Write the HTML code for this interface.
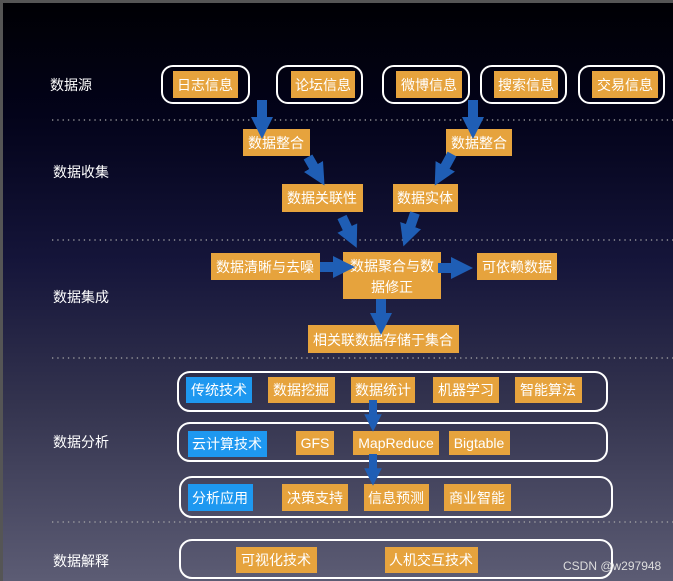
<!DOCTYPE html>
<html><head><meta charset="utf-8"><style>
html,body{margin:0;padding:0;width:673px;height:581px;overflow:hidden;background:#000}
svg{display:block}
text{font-family:"Liberation Sans","Noto Sans CJK SC",sans-serif;fill:#fff}
</style></head><body>
<svg width="673" height="581" viewBox="0 0 673 581" xmlns="http://www.w3.org/2000/svg">
<defs>
<linearGradient id="bg" x1="0" y1="0" x2="0" y2="1">
<stop offset="0" stop-color="#000003"/>
<stop offset="0.2" stop-color="#03031a"/>
<stop offset="0.45" stop-color="#15153a"/>
<stop offset="0.7" stop-color="#34344f"/>
<stop offset="1" stop-color="#5c5c74"/>
</linearGradient>
<marker id="ah" viewBox="0 0 10 10" refX="5" refY="5" markerWidth="2.2" markerHeight="2.2" orient="auto" markerUnits="strokeWidth">
<path d="M0,0 L10,5 L0,10 z" fill="#1f5eb5"/></marker>
</defs>
<rect width="673" height="581" fill="url(#bg)"/>
<rect x="0" y="0" width="673" height="3" fill="#555"/>
<rect x="0" y="0" width="3" height="581" fill="#555"/>
<g stroke="#aaa" stroke-width="1.3" stroke-dasharray="1.3 4">
<line x1="52" y1="120" x2="673" y2="120"/>
<line x1="52" y1="240" x2="673" y2="240"/>
<line x1="52" y1="358" x2="673" y2="358"/>
<line x1="52" y1="522" x2="673" y2="522"/>
</g>
<g font-size="14">
<text x="50" y="90">数据源</text>
<text x="53" y="177">数据收集</text>
<text x="53" y="302">数据集成</text>
<text x="53" y="447">数据分析</text>
<text x="53" y="566">数据解释</text>
</g>
<g fill="none" stroke="#fff" stroke-width="2">
<rect x="162" y="66" width="87" height="37" rx="11"/>
<rect x="277" y="66" width="85" height="37" rx="11"/>
<rect x="383" y="66" width="86" height="37" rx="11"/>
<rect x="481" y="66" width="85" height="37" rx="11"/>
<rect x="579" y="66" width="85" height="37" rx="11"/>
<rect x="178" y="372" width="429" height="39" rx="12"/>
<rect x="178" y="423" width="429" height="38" rx="12"/>
<rect x="180" y="477" width="432" height="40" rx="12"/>
<rect x="180" y="540" width="432" height="38" rx="12"/>
</g>
<g fill="#e6a33d">
<rect x="173" y="71" width="65" height="27"/>
<rect x="291" y="71" width="64" height="27"/>
<rect x="396" y="71" width="66" height="27"/>
<rect x="494" y="71" width="64" height="27"/>
<rect x="592" y="71" width="66" height="27"/>
<rect x="243" y="129" width="67" height="27"/>
<rect x="446" y="129" width="66" height="27"/>
<rect x="282" y="184" width="81" height="28"/>
<rect x="393" y="184" width="65" height="28"/>
<rect x="211" y="253" width="109" height="27"/>
<rect x="343" y="252" width="98" height="47"/>
<rect x="477" y="253" width="80" height="27"/>
<rect x="308" y="325" width="151" height="28"/>
<rect x="268" y="377" width="67" height="26"/>
<rect x="351" y="377" width="64" height="26"/>
<rect x="433" y="377" width="66" height="26"/>
<rect x="515" y="377" width="67" height="26"/>
<rect x="296" y="431" width="38" height="24"/>
<rect x="353" y="431" width="86" height="24"/>
<rect x="449" y="431" width="61" height="24"/>
<rect x="282" y="484" width="66" height="27"/>
<rect x="364" y="484" width="65" height="27"/>
<rect x="444" y="484" width="67" height="27"/>
<rect x="236" y="547" width="81" height="26"/>
<rect x="385" y="547" width="93" height="26"/>
</g>
<g fill="#1e98f0">
<rect x="186" y="377" width="66" height="26"/>
<rect x="188" y="431" width="79" height="26"/>
<rect x="188" y="484" width="65" height="27"/>
</g>
<g font-size="14" text-anchor="middle">
<text x="205" y="90">日志信息</text>
<text x="323" y="90">论坛信息</text>
<text x="429" y="90">微博信息</text>
<text x="526" y="90">搜索信息</text>
<text x="625" y="90">交易信息</text>
<text x="276" y="148">数据整合</text>
<text x="479" y="148">数据整合</text>
<text x="322" y="203">数据关联性</text>
<text x="425" y="203">数据实体</text>
<text x="265" y="272">数据清晰与去噪</text>
<text x="392" y="271">数据聚合与数</text>
<text x="392" y="292">据修正</text>
<text x="517" y="272">可依赖数据</text>
<text x="383" y="345">相关联数据存储于集合</text>
<text x="219" y="395">传统技术</text>
<text x="301" y="395">数据挖掘</text>
<text x="383" y="395">数据统计</text>
<text x="466" y="395">机器学习</text>
<text x="548" y="395">智能算法</text>
<text x="227" y="449">云计算技术</text>
<text x="315" y="448">GFS</text>
<text x="396" y="448">MapReduce</text>
<text x="479" y="448">Bigtable</text>
<text x="220" y="503">分析应用</text>
<text x="315" y="503">决策支持</text>
<text x="396" y="503">信息预测</text>
<text x="477" y="503">商业智能</text>
<text x="276" y="565">可视化技术</text>
<text x="431" y="565">人机交互技术</text>
</g>
<g stroke="#1f5eb5" stroke-width="10" marker-end="url(#ah)">
<line x1="262" y1="100" x2="262" y2="128"/>
<line x1="473" y1="100" x2="473" y2="128"/>
<line x1="308" y1="157" x2="319" y2="176"/>
<line x1="452" y1="154" x2="440" y2="176"/>
<line x1="342" y1="217" x2="352" y2="238"/>
<line x1="415" y1="213" x2="407" y2="236"/>
<line x1="320" y1="267" x2="344" y2="267"/>
<line x1="438" y1="268" x2="462" y2="268"/>
<line x1="381" y1="299" x2="381" y2="324"/>
</g>
<g stroke="#1f5eb5" stroke-width="8" marker-end="url(#ah)">
<line x1="373" y1="400" x2="373" y2="423"/>
<line x1="373" y1="454" x2="373" y2="477"/>
</g>
<text x="563" y="570" font-size="12" fill="#ddd" style="fill:#ddd">CSDN @w297948</text>
</svg>
</body></html>
